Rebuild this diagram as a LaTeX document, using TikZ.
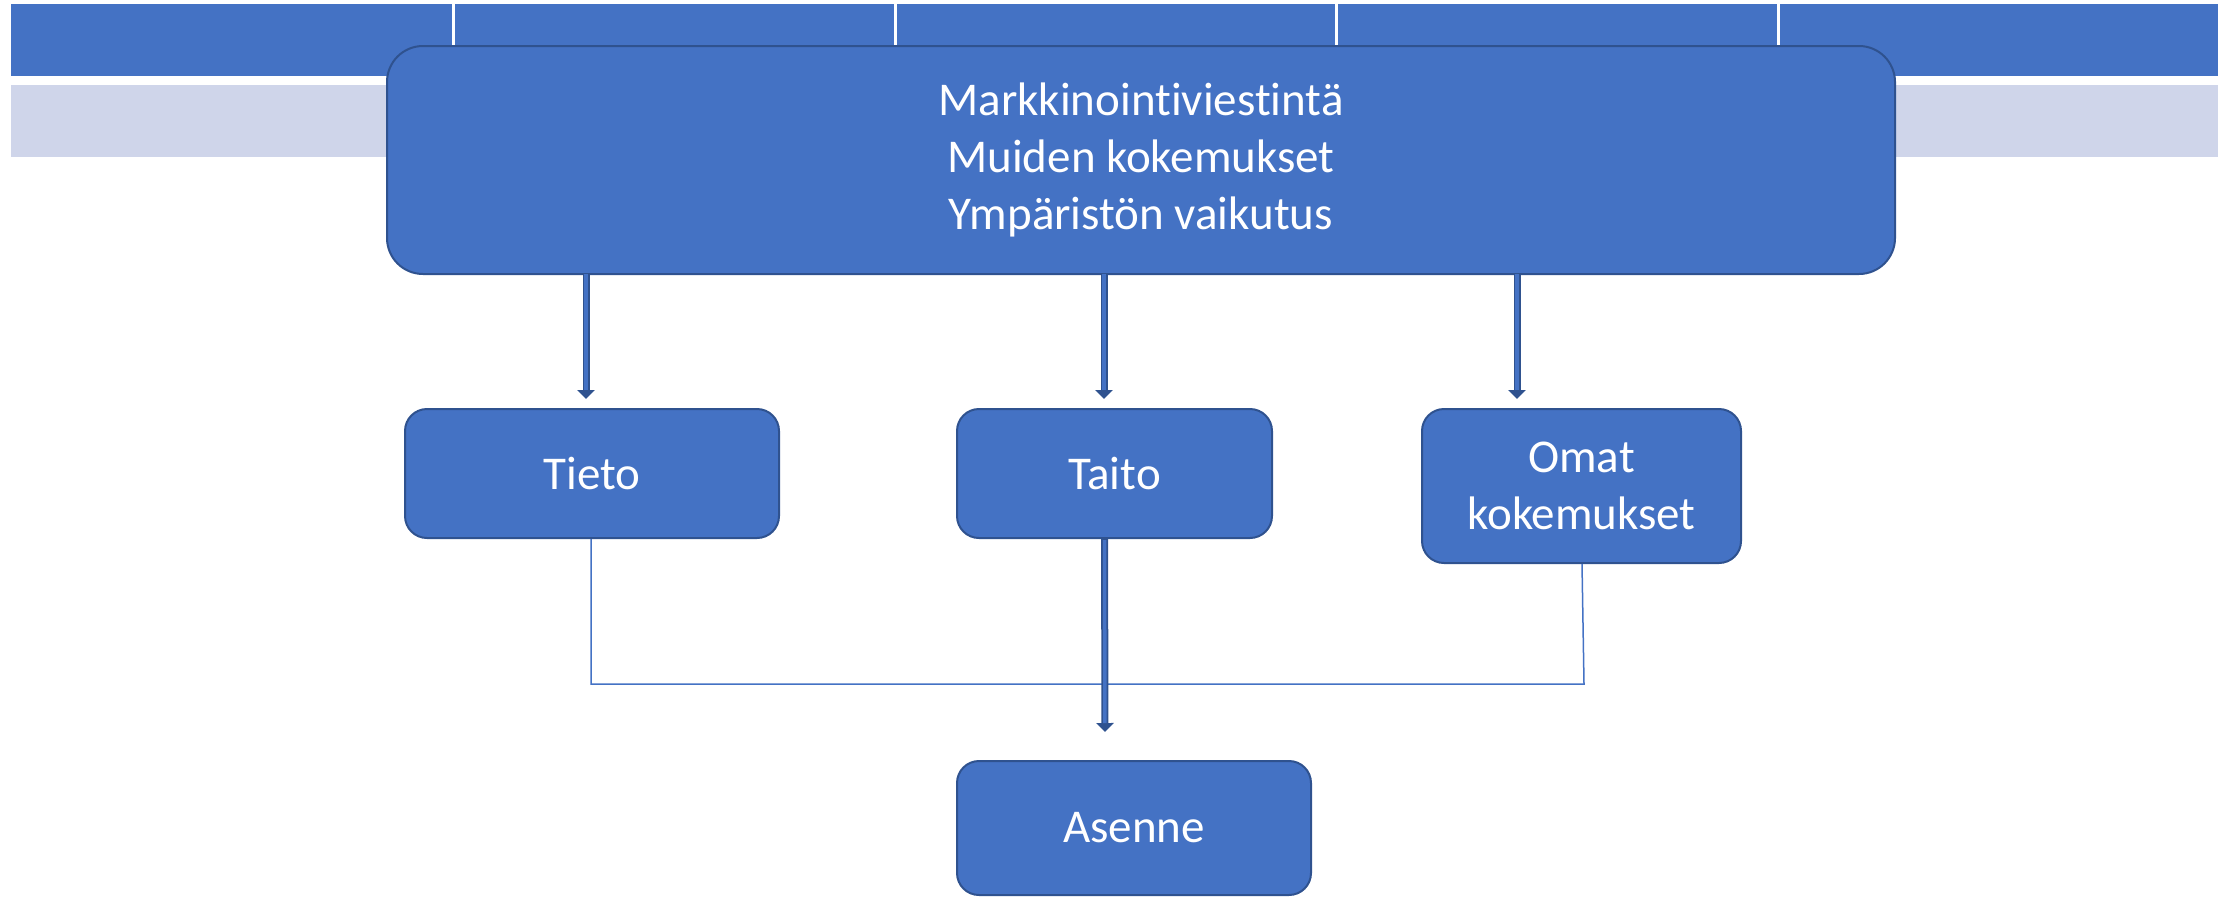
\documentclass[tikz,border=0pt]{standalone}
\usepackage{fontspec}
\setmainfont{Carlito}[Ligatures={NoCommon}]
\usetikzlibrary{arrows.meta,calc}
\definecolor{boxfill}{HTML}{4472C4}
\definecolor{boxline}{HTML}{2F528F}
\definecolor{bandlight}{HTML}{CFD5EA}
\begin{document}
\begin{tikzpicture}[x=1pt,y=-1pt,
  box/.style={draw=boxline, line width=2pt, fill=boxfill, text=white,
    font=\fontsize{47}{57}\selectfont, align=center, inner sep=0pt,
    rounded corners=22pt},
  bigbox/.style={box, rounded corners=36pt},
  arrowout/.style={draw=boxline, line width=7pt, -{Triangle[width=17pt,length=9pt]}},
  arrowin/.style={draw=boxfill, line width=3.5pt, shorten >=9pt},
  thinline/.style={draw=boxfill, line width=1.5pt},
  divider/.style={draw=white, line width=3pt}]
\useasboundingbox (0,0) rectangle (2234,898);
% top table bands
\fill[boxfill] (11,4) rectangle (2218,76);
\fill[bandlight] (11,85) rectangle (2218,157);
\foreach \xx in {453,895,1336,1778} \draw[divider] (\xx,3) -- (\xx,77);
% main box
\node[bigbox, minimum width=1508pt, minimum height=228pt] (big) at (1141,160)
  {Markkinointiviestintä\\Muiden kokemukset\\Ympäristön vaikutus};
% second row
\node[box, minimum width=374pt, minimum height=129pt] (tieto) at (592,473.5) {Tieto};
\node[box, minimum width=315pt, minimum height=129pt] (taito) at (1114.5,473.5) {Taito};
\node[box, minimum width=319pt, minimum height=154pt] (omat) at (1581.5,486) {Omat\\kokemukset};
\node[box, minimum width=354pt, minimum height=134pt] (asenne) at (1134,828) {Asenne};
% arrows from main box
\foreach \n/\dx in {tieto/-6, taito/-10.5, omat/-64.5}{
  \draw[arrowout] ([xshift=\dx pt]big.south -| \n.north) -- ([xshift=\dx pt, yshift=9pt]\n.north);
  \draw[arrowin] ([xshift=\dx pt, yshift=1pt]big.south -| \n.north) -- ([xshift=\dx pt, yshift=9pt]\n.north);
}
% thin connector
\coordinate (joinl) at (591,684);
\coordinate (joinr) at (1584,684);
\draw[thinline] ([xshift=-1pt]tieto.south) -- (joinl) -- (joinr) -- ([xshift=0.5pt]omat.south);
% Taito to Asenne
\draw[arrowout] ([xshift=-10pt]taito.south) -- ([xshift=-29pt, yshift=28pt]asenne.north);
\draw[arrowin] ([xshift=-10pt, yshift=-1pt]taito.south) -- ([xshift=-29pt, yshift=28pt]asenne.north);
\end{tikzpicture}
\end{document}
